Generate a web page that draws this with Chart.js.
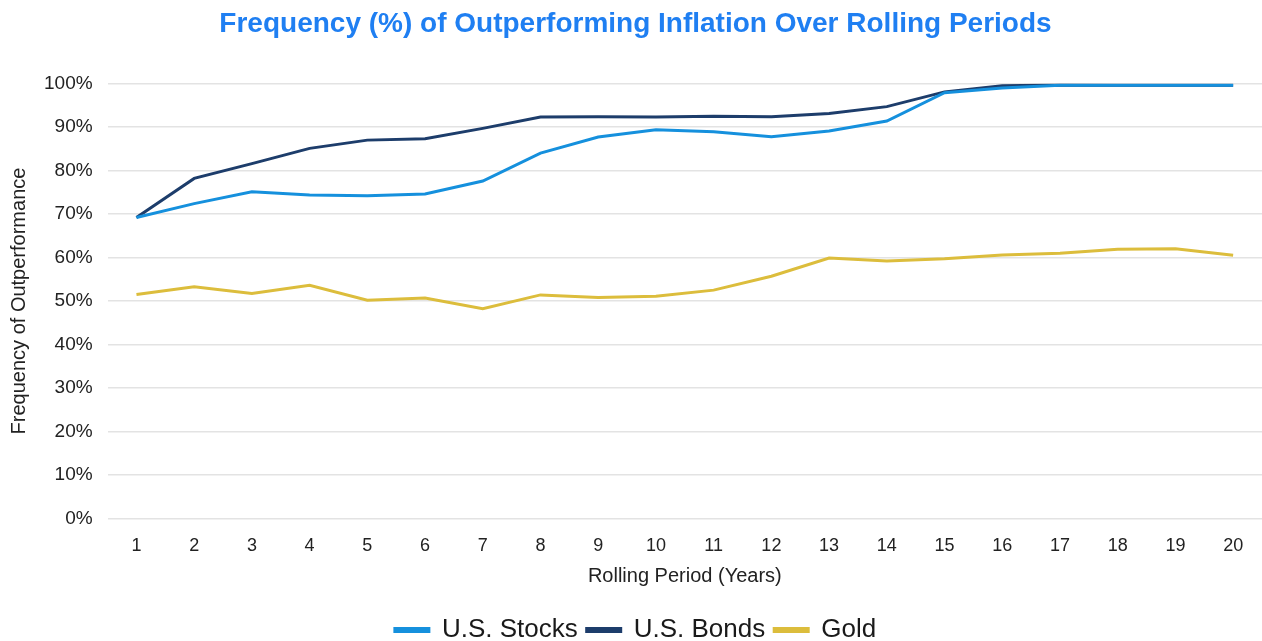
<!DOCTYPE html>
<html>
<head>
<meta charset="utf-8">
<script src="https://cdn.jsdelivr.net/npm/chart.js@4"></script>
<style>
  body { margin: 0; background: #fff; }
  #wrap { width: 1262px; height: 641px; }
</style>
</head>
<body>
<div id="wrap"><canvas id="chartLine" width="1262" height="641"></canvas></div>
<script>
const periods = ['1', '2', '3', '4', '5', '6', '7', '8', '9', '10',
    '11', '12', '13', '14', '15', '16', '17', '18', '19', '20'];

const stocks = [69.2, 72.4, 75.1, 74.4, 74.2, 74.6, 77.6, 84.0, 87.7, 89.4,
    88.9, 87.8, 89.1, 91.4, 97.9, 99.0, 99.6, 99.6, 99.6, 99.6];

const bonds = [69.2, 78.2, 81.6, 85.1, 87.0, 87.3, 89.7, 92.3, 92.4, 92.3,
    92.5, 92.4, 93.1, 94.7, 98.1, 99.5, 99.7, 99.6, 99.6, 99.6];

const gold = [51.5, 53.3, 51.7, 53.6, 50.2, 50.7, 48.2, 51.4, 50.8, 51.1,
    52.5, 55.7, 59.9, 59.2, 59.7, 60.6, 61.0, 61.9, 62.0, 60.5];

const seriesNames = ['U.S. Stocks', 'U.S. Bonds', 'Gold'];

const fontFamily = '"Liberation Sans", Arial, sans-serif';

const dataContent = {
    labels: periods,
    datasets: [{
        label: seriesNames[0],
        data: stocks,
        borderColor: '#1590dd',
        backgroundColor: '#1590dd',
    }, {
        label: seriesNames[1],
        data: bonds,
        borderColor: '#1d3d6b',
        backgroundColor: '#1d3d6b',
    }, {
        label: seriesNames[2],
        data: gold,
        borderColor: '#dcbd3c',
        backgroundColor: '#dcbd3c',
    }]
};

const config = {
    type: 'line',
    data: dataContent,
    options: {
        responsive: false,
        animation: false,
        layout: {
            padding: { top: 7, right: 0, left: 9, bottom: -12 }
        },
        elements: {
            line: { borderWidth: 3, tension: 0 },
            point: { radius: 0 }
        },
        plugins: {
            title: {
                display: true,
                text: 'Frequency (%) of Outperforming Inflation Over Rolling Periods',
                color: '#1f7ff2',
                font: { family: fontFamily, size: 28, weight: 'bold' },
                padding: { top: 0, bottom: 43 }
            },
            legend: {
                position: 'bottom',
                labels: {
                    color: '#1a1a1a',
                    font: { family: fontFamily, size: 26 },
                    boxWidth: 34,
                    boxHeight: 3,
                    padding: 9
                }
            },
            tooltip: { enabled: false }
        },
        scales: {
            x: {
                offset: true,
                grid: { display: false },
                border: { display: false },
                ticks: {
                    color: '#222',
                    font: { family: fontFamily, size: 18 },
                    padding: 9,
                    maxRotation: 0
                },
                title: {
                    display: true,
                    text: 'Rolling Period (Years)',
                    color: '#222',
                    font: { family: fontFamily, size: 20, lineHeight: 1 },
                    padding: { top: 0, bottom: 22 }
                }
            },
            y: {
                min: 0,
                max: 100,
                grid: { color: '#e3e3e3', lineWidth: 1.5, drawTicks: false },
                border: { display: false },
                ticks: {
                    stepSize: 10,
                    color: '#222',
                    font: { family: fontFamily, size: 19 },
                    padding: 15,
                    callback: function(value) {
                        return value + '%';
                    }
                },
                title: {
                    display: true,
                    text: 'Frequency of Outperformance',
                    color: '#222',
                    font: { family: fontFamily, size: 20, lineHeight: 1 },
                    padding: { top: 0, bottom: 0 }
                }
            }
        }
    }
};

const ChartLine = new Chart(document.getElementById('chartLine'), config);
</script>
</body>
</html>
